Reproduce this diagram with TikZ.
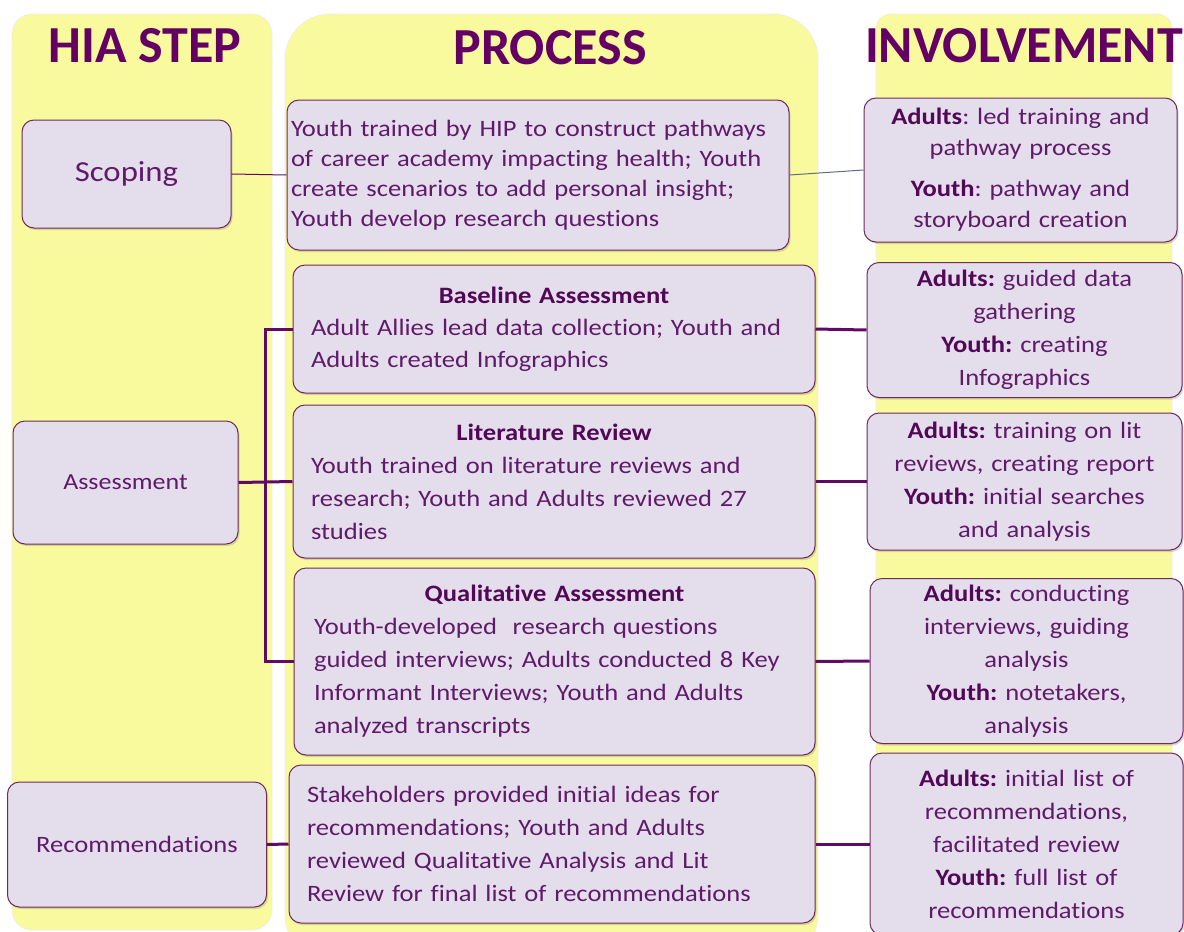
\documentclass[tikz,border=0pt]{standalone}
\usepackage{fontspec}
\setmainfont{Carlito}[FakeStretch=1.13, Ligatures=NoCommon]
\newfontfamily\hdrfont{Carlito}[Ligatures=NoCommon]
\usetikzlibrary{shadows}
\definecolor{colY}{RGB}{249,249,158}
\definecolor{boxF}{RGB}{228,222,236}
\definecolor{boxB}{RGB}{112,42,92}
\definecolor{txt}{RGB}{96,26,106}
\definecolor{dk}{RGB}{82,8,86}
\definecolor{hd}{RGB}{100,0,100}
\definecolor{cn}{RGB}{96,10,102}
\definecolor{thinc}{RGB}{96,110,130}
\newcommand{\bh}[1]{{\color{dk}\bfseries #1}}
\frenchspacing
\begin{document}
\begin{tikzpicture}[x=1pt,y=-1pt,
  colbg/.style={fill=colY, draw=black!7, line width=0.6pt},
  box/.style={draw=boxB, line width=1pt, fill=boxF, rounded corners=12pt,
    drop shadow={shadow xshift=1.5pt, shadow yshift=-2pt, opacity=0.3},
    inner sep=0pt, text=txt},
  bodyA/.style={font=\fontsize{23.5}{30}\selectfont},
  bodyB/.style={font=\fontsize{23.5}{32}\selectfont},
  bodyC/.style={font=\fontsize{23.5}{33}\selectfont},
  invb/.style={font=\fontsize{23.5}{33}\selectfont, align=center},
  hdr/.style={font=\hdrfont\fontsize{52}{60}\selectfont\bfseries, text=hd},
  conn/.style={draw=cn, line width=3pt},
  thin/.style={draw=#1, line width=1pt}
]
\clip (0,0) rectangle (1184,932);
\fill[white] (0,0) rectangle (1184,932);
% columns
\draw[colbg, rounded corners=20pt] (12,14) rectangle (272,930);
\draw[colbg, rounded corners=45pt] (285,14) rectangle (818,960);
\draw[colbg, rounded corners=14pt] (876,14) rectangle (1172,960);
% headers
\node[hdr] (h1) at (145,46) {HIA STEP};
\node[hdr] (h2) at (550,48) {PROCESS};
\node[hdr] (h3) at (1024,46) {INVOLVEMENT};
% HIA step boxes
\node[box, minimum width=209pt, minimum height=108pt, font=\fontsize{29}{34}\selectfont] (S1) at (126.5,174) {Scoping};
\node[box, minimum width=225pt, minimum height=123pt, font=\fontsize{23}{27}\selectfont] (S2) at (125.5,482.5) {Assessment};
\node[box, minimum width=259pt, minimum height=125pt, font=\fontsize{23.5}{27}\selectfont] (S3) at (137,844.5) {Recommendations};
% process boxes
\node[box, bodyA, minimum width=502pt, minimum height=150pt, text width=494pt, align=left] (P1) at (538,175)
 {Youth trained by HIP to construct pathways\\of career academy impacting health; Youth\\create scenarios to add personal insight;\\Youth develop research questions};
\node[box, bodyB, minimum width=522pt, minimum height=128pt, text width=486pt, align=left] (P2) at (554,329)
 {{\centering\bh{Baseline Assessment}\par}Adult Allies lead data collection; Youth and\\Adults created Infographics};
\node[box, bodyC, minimum width=522pt, minimum height=153pt, text width=486pt, align=left] (P3) at (554,481.5)
 {{\centering\bh{Literature Review}\par}Youth trained on literature reviews and\\research; Youth and Adults reviewed 27\\studies};
\node[box, bodyC, minimum width=521pt, minimum height=187pt, text width=481pt, align=left] (P4) at (554.5,661.5)
 {{\centering\bh{Qualitative Assessment}\par}Youth-developed\ \ research questions\\guided interviews; Adults conducted 8 Key\\Informant Interviews; Youth and Adults\\analyzed transcripts};
\node[box, bodyC, minimum width=526pt, minimum height=158pt, text width=490pt, align=left] (P5) at (552,844)
 {Stakeholders provided initial ideas for\\recommendations; Youth and Adults\\reviewed Qualitative Analysis and Lit\\Review for final list of recommendations};
% involvement boxes
\node[box, invb, font=\fontsize{23.5}{31}\selectfont, minimum width=313pt, minimum height=144pt, text width=308pt] (I1) at (1020.5,170)
 {\bh{Adults}: led training and\\pathway process\\[10pt]\bh{Youth}: pathway and\\storyboard creation};
\node[box, invb, minimum width=315pt, minimum height=135pt, text width=308pt] (I2) at (1024.5,330)
 {\bh{Adults:} guided data\\gathering\\\bh{Youth:} creating\\Infographics};
\node[box, invb, minimum width=315pt, minimum height=137pt, text width=308pt] (I3) at (1024.5,481.5)
 {\bh{Adults:} training on lit\\reviews, creating report\\\bh{Youth:} initial searches\\and analysis};
\node[box, invb, minimum width=313pt, minimum height=165pt, text width=308pt] (I4) at (1026.5,661)
 {\bh{Adults:} conducting\\interviews, guiding\\analysis\\\bh{Youth:} notetakers,\\analysis};
\node[box, invb, minimum width=313pt, minimum height=182pt, text width=308pt] (I5) at (1026.5,844)
 {\bh{Adults:} initial list of\\recommendations,\\facilitated review\\\bh{Youth:} full list of\\recommendations};
% connectors
\draw[thin=cn] (S1.east) -- (P1.west);
\draw[thin=thinc] (P1.east) -- (I1.west);
\coordinate (bt) at (265.5,329);
\coordinate (bb) at (265.5,661.5);
\draw[conn] (S2.east) -- (P3.west);
\draw[conn] (P2.west) -- (bt) -- (bb) -- (P4.west);
\draw[conn] (P2.east) -- (I2.west);
\draw[conn] (P3.east) -- (I3.west);
\draw[conn] (P4.east) -- (I4.west);
\draw[conn] (S3.east) -- (P5.west);
\draw[conn] (P5.east) -- (I5.west);
\end{tikzpicture}
\end{document}
